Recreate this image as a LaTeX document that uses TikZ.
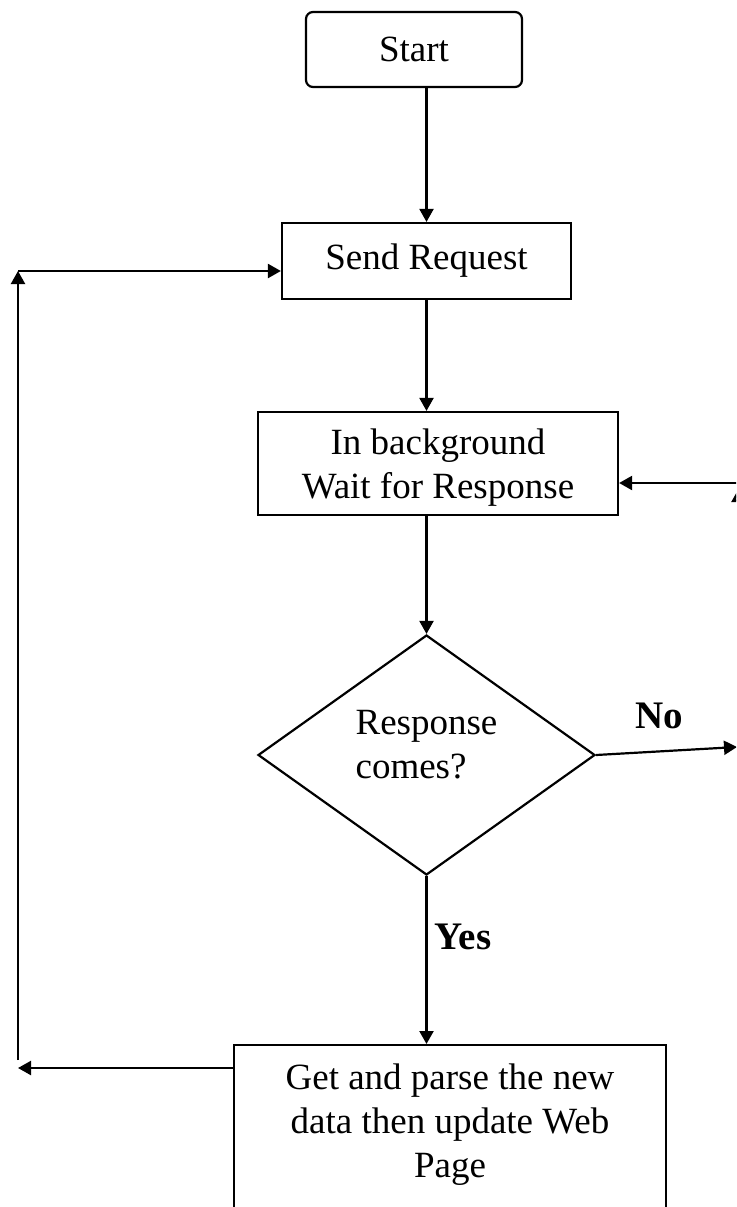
\documentclass[tikz,border=0pt]{standalone}
\usepackage{fontspec}
\setmainfont{Liberation Serif}
\usetikzlibrary{arrows.meta,shapes.geometric}

\begin{document}
\begin{tikzpicture}[
    x=1pt, y=-1pt,
    font=\fontsize{37}{44}\selectfont,
    procBox/.style={draw, rectangle, line width=2.2pt, align=center},
    startBox/.style={procBox, rounded corners=7pt},
    decisionBox/.style={draw, diamond, line width=2.2pt, aspect=1.4, inner sep=0pt, align=left},
    flow/.style={-{Triangle[length=13pt, width=14pt]}, line width=2.2pt},
    answerLbl/.style={font=\fontsize{39}{44}\selectfont\bfseries}
]

    % ---------------- page frame (the picture is cut on the right and below) ----------------
    \useasboundingbox (0,0) rectangle (736,1207);
    \clip (0,0) rectangle (736,1207);

    % ---------------- steps ----------------
    \node[startBox, minimum width=216pt, minimum height=75pt] (start) at (414,49.5) {Start};
    \node[procBox, minimum width=289pt, minimum height=76pt] (send) at (426.5,261) {Send Request};
    \node[procBox, minimum width=360pt, minimum height=103pt, text depth=0pt]
        (wait) at (438,463.5) {In background\\Wait for Response};
    \node[decisionBox, minimum width=337pt, minimum height=240pt, text depth=20.5pt]
        (check) at (426.5,755) {Response\\comes?};
    \node[procBox, anchor=north, minimum width=432pt, inner ysep=19pt, text depth=150pt]
        (update) at (450,1044) {Get and parse the new\\data then update Web\\Page};

    % ---------------- loose ends ----------------
    \coordinate (loopStart) at (18,1060);
    \coordinate (loopTop) at (18,271);
    \coordinate (loopBot) at (18,1068);
    \coordinate (noEnd) at (737,747);
    \coordinate (retCorner) at (745,483);
    \coordinate (upStart) at (738.5,740);
    \coordinate (upTip) at (738.5,489);

    % ---------------- main flow ----------------
    \draw[flow] (start.south -| send.north) -- (send.north);
    \draw[flow] (send.south) -- (send.south |- wait.north);
    \draw[flow] (wait.south -| check.north) -- (check.north);
    \draw[flow] (check.south) -- (check.south |- update.north);
    \node[answerLbl, anchor=base] (yesLbl) at (463,949) {Yes};

    % ---------------- no branch ----------------
    \draw[flow] (check.east) -- (noEnd);
    \node[answerLbl, anchor=base] (noLbl) at (659,728) {No};
    \draw[flow] (upStart) -- (upTip);
    \draw[flow] (retCorner) -- (retCorner -| wait.east);

    % ---------------- loop back ----------------
    \draw[flow] (loopBot -| update.west) -- (loopBot);
    \draw[flow] (loopStart) -- (loopTop);
    \draw[flow] (loopTop) -- (loopTop -| send.west);

\end{tikzpicture}
\end{document}
